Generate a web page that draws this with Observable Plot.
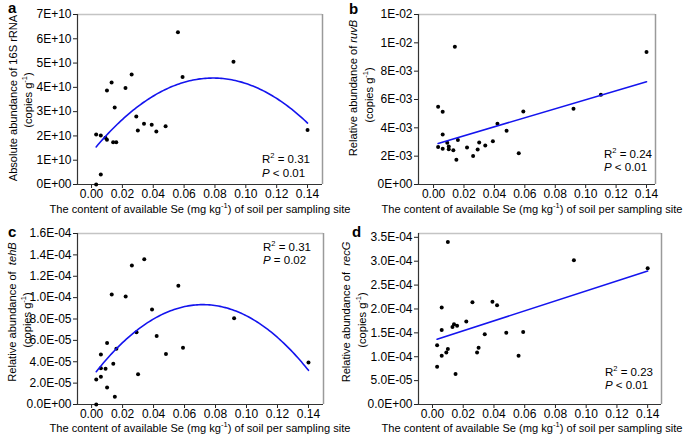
<!DOCTYPE html>
<html><head><meta charset="utf-8">
<script src="https://cdn.jsdelivr.net/npm/d3@7"></script>
<script src="https://cdn.jsdelivr.net/npm/@observablehq/plot@0.6"></script>
<style>
html,body{margin:0;padding:0;background:#fff;}
#wrap{position:relative;width:685px;height:435px;overflow:hidden;font-family:"Liberation Sans",Arial,sans-serif;}
.panel{position:absolute;}
.panel svg{background:none !important;overflow:visible !important;max-width:none !important;}
</style></head><body><div id="wrap"></div>
<script>
// ---------- data ----------
const xTicks = [0, 0.02, 0.04, 0.06, 0.08, 0.10, 0.12, 0.14];

// a: absolute abundance of 16S rRNA
const seA = [0.003,0.003,0.006,0.006,0.009,0.010,0.010,0.013,0.014,0.015,0.016,0.022,0.026,0.029,0.030,0.034,0.039,0.042,0.048,0.056,0.059,0.092,0.140];
const rrna16S = [2.06e10,0.0,2.02e10,0.41e10,1.92e10,1.84e10,3.87e10,4.20e10,1.74e10,3.17e10,1.74e10,3.97e10,4.53e10,2.80e10,2.22e10,2.50e10,2.46e10,2.18e10,2.40e10,6.27e10,4.43e10,5.05e10,2.24e10];
const yTicksA = [0,1e10,2e10,3e10,4e10,5e10,6e10,7e10];
const yLabelsA = ["0E+00","1E+10","2E+10","3E+10","4E+10","5E+10","6E+10","7E+10"];

// b: relative abundance of ruvB
const seB = [0.003,0.003,0.006,0.006,0.006,0.009,0.010,0.010,0.013,0.014,0.015,0.016,0.022,0.026,0.029,0.030,0.034,0.039,0.042,0.048,0.056,0.059,0.092,0.110,0.140];
const ruvB = [2.64e-3,5.48e-3,5.13e-3,2.52e-3,3.53e-3,2.94e-3,2.68e-3,2.49e-3,2.42e-3,9.72e-3,1.74e-3,3.15e-3,2.61e-3,2.02e-3,2.47e-3,2.96e-3,2.75e-3,3.06e-3,4.28e-3,3.79e-3,2.21e-3,5.15e-3,5.34e-3,6.33e-3,9.36e-3];
const yTicksB = [0,0.002,0.004,0.006,0.008,0.010,0.012];
const yLabelsB = ["0E+00","2E-03","4E-03","6E-03","8E-03","1E-02","1E-02"];

// c: relative abundance of tehB
const seC = [0.003,0.003,0.006,0.006,0.006,0.009,0.010,0.010,0.013,0.014,0.015,0.016,0.022,0.026,0.029,0.030,0.034,0.039,0.042,0.048,0.056,0.059,0.092,0.140];
const tehB = [0.0,2.34e-5,2.59e-5,3.40e-5,4.69e-5,3.34e-5,1.59e-5,5.75e-5,10.3e-5,3.81e-5,0.72e-5,5.22e-5,10.1e-5,13.0e-5,6.75e-5,2.84e-5,13.6e-5,8.9e-5,6.4e-5,4.72e-5,11.1e-5,5.31e-5,8.06e-5,3.94e-5];
const yTicksC = [0,2e-5,4e-5,6e-5,8e-5,10e-5,12e-5,14e-5,16e-5];
const yLabelsC = ["0.0E+00","2.0E-05","4.0E-05","6.0E-05","8.0E-05","1.0E-04","1.2E-04","1.4E-04","1.6E-04"];

// d: relative abundance of recG
const seD = [0.003,0.003,0.006,0.006,0.006,0.009,0.010,0.010,0.013,0.014,0.015,0.016,0.022,0.026,0.029,0.030,0.034,0.039,0.042,0.048,0.056,0.059,0.092,0.140];
const recG = [12.4e-5,7.92e-5,20.3e-5,15.6e-5,10.2e-5,10.9e-5,11.6e-5,34.0e-5,16.2e-5,16.8e-5,6.38e-5,16.5e-5,17.4e-5,21.4e-5,10.9e-5,11.9e-5,14.7e-5,21.5e-5,20.8e-5,15.0e-5,10.2e-5,15.2e-5,30.2e-5,28.5e-5];
const yTicksD = [0,5e-5,10e-5,15e-5,20e-5,25e-5,30e-5,35e-5];
const yLabelsD = ["0.0E+00","5.0E-05","1.0E-04","1.5E-04","2.0E-04","2.5E-04","3.0E-04","3.5E-04"];

const stats = {a:["0.31","<","0.01"], b:["0.24","<","0.01"], c:["0.31","=","0.02"], d:["0.23","<","0.01"]};

// ---------- helpers ----------
function quadFit(xs, ys) {
  const S = [0,0,0,0,0], T = [0,0,0];
  xs.forEach((x,i) => { for (let k=0;k<5;k++) S[k]+=x**k; for (let k=0;k<3;k++) T[k]+=ys[i]*x**k; });
  const A = [[S[0],S[1],S[2],T[0]],[S[1],S[2],S[3],T[1]],[S[2],S[3],S[4],T[2]]];
  for (let c=0;c<3;c++){ for (let r=c+1;r<3;r++){ const f=A[r][c]/A[c][c]; for(let k=c;k<4;k++) A[r][k]-=f*A[c][k]; } }
  const sol=[0,0,0];
  for (let r=2;r>=0;r--){ let s=A[r][3]; for(let k=r+1;k<3;k++) s-=A[r][k]*sol[k]; sol[r]=s/A[r][r]; }
  const [a0,a1,a2]=sol;
  const lo=d3.min(xs), hi=d3.max(xs);
  return d3.range(121).map(i => { const x=lo+(hi-lo)*i/120; return {x, y:a0+a1*x+a2*x*x}; });
}

const BLUE = "#1414ee";
const FONT = "Liberation Sans, Arial, sans-serif";
const TFS = 11.1; // title font size

function makePanel(cfg) {
  const data = cfg.x.map((x,i)=>({x, y: cfg.y[i]}));
  const lab = new Map(cfg.yTicks.map((t,i)=>[t, cfg.yLabels[i]]));
  const marks = [
    Plot.ruleY([cfg.yDomain[1]], {stroke:"#c4c4c4", strokeWidth:1.5}),
    Plot.ruleX([cfg.xDomain[1]], {stroke:"#9a9a9a", strokeWidth:1.5}),
    Plot.axisX({ticks: xTicks, tickFormat: d=>d.toFixed(2), tickSize:4, tickPadding:1, fontSize:12, stroke:"#222", label:null}),
    Plot.axisY({ticks: cfg.yTicks, tickFormat: d=>lab.get(d), tickSize:4, tickPadding:2, fontSize:12, stroke:"#222", label:null}),
    Plot.ruleX([cfg.xDomain[0]], {stroke:"#333", strokeWidth:1.2}),
    Plot.ruleY([cfg.yDomain[0]], {stroke:"#333", strokeWidth:1.2}),
    Plot.dot(data, {x:"x", y:"y", r:2, fill:"black", stroke:null})
  ];
  if (cfg.fit === "linear") marks.push(Plot.linearRegressionY(data, {x:"x", y:"y", stroke:BLUE, strokeWidth:1.6, ci:0}));
  else marks.push(Plot.line(quadFit(cfg.x, cfg.y), {x:"x", y:"y", stroke:BLUE, strokeWidth:1.6}));
  const svg = Plot.plot({
    width: cfg.width, height: cfg.height,
    marginLeft: cfg.m[0], marginRight: cfg.m[1], marginTop: cfg.m[2], marginBottom: cfg.m[3],
    x: {domain: cfg.xDomain}, y: {domain: cfg.yDomain},
    style: {fontFamily: FONT, fontSize: "12px", color: "black", background: "none"},
    marks
  });
  const s = d3.select(svg);
  const g = s.append("g").attr("font-family", FONT).attr("fill", "black").attr("text-anchor", "start");
  // panel letter
  g.append("text").attr("x", cfg.letter[1]).attr("y", cfg.letter[2]).attr("font-size", 15).attr("font-weight", "bold").text(cfg.letter[0]);
  // y title line 1
  const t1 = g.append("text").attr("font-size", TFS).attr("text-anchor", "middle").style("white-space","pre")
    .attr("transform", `translate(${cfg.yt1[0]},${cfg.yt1[1]}) rotate(-90)`);
  t1.append("tspan").text(cfg.ytitle[0]);
  if (cfg.ytitle[1]) t1.append("tspan").attr("font-style","italic").text(cfg.ytitle[1]);
  // y title line 2
  const t2 = g.append("text").attr("font-size", TFS).attr("text-anchor", "middle")
    .attr("transform", `translate(${cfg.yt2[0]},${cfg.yt2[1]}) rotate(-90)`);
  t2.append("tspan").text("(copies g");
  t2.append("tspan").attr("font-size", 7.5).attr("dy", -5).text("-1");
  t2.append("tspan").attr("dy", 5).text(")");
  // x title
  const xt = g.append("text").attr("font-size", TFS).attr("text-anchor", "middle").attr("x", cfg.xt[0]).attr("y", cfg.xt[1]);
  xt.append("tspan").text("The content of available Se (mg kg");
  xt.append("tspan").attr("font-size", 7.5).attr("dy", -5).text("-1");
  xt.append("tspan").attr("dy", 5).text(") of soil per sampling site");
  // statistics
  const st = stats[cfg.letter[0]];
  const r = g.append("text").attr("font-size", 11.5).attr("x", cfg.st[0]).attr("y", cfg.st[1]);
  r.append("tspan").text("R");
  r.append("tspan").attr("font-size", 7.5).attr("dy", -5).text("2");
  r.append("tspan").attr("dy", 5).text(" = " + st[0]);
  const p = g.append("text").attr("font-size", 11.5).attr("x", cfg.st[0]).attr("y", cfg.st[2]);
  p.append("tspan").attr("font-style","italic").text("P");
  p.append("tspan").text(" " + st[1] + " " + st[2]);

  const div = document.createElement("div");
  div.className = "panel";
  div.style.left = cfg.left + "px"; div.style.top = cfg.top + "px";
  div.appendChild(svg);
  document.getElementById("wrap").appendChild(div);
}

makePanel({letter:["a",8,13], left:0, top:0, width:342, height:217, m:[77,20,14,33],
  x: seA, y: rrna16S, fit:"quad", xDomain:[-0.0091,0.1497], yDomain:[0,7e10],
  yTicks: yTicksA, yLabels: yLabelsA, ytitle:["Absolute abundance of 16S rRNA"],
  yt1:[17,98], yt2:[32,100], xt:[200,213], st:[262,163,177]});

makePanel({letter:["b",7,14], left:342, top:0, width:343, height:217, m:[76,30,14,33],
  x: seB, y: ruvB, fit:"linear", xDomain:[-0.0099,0.1459], yDomain:[0,0.012],
  yTicks: yTicksB, yLabels: yLabelsB, ytitle:["Relative abundance of ", "ruvB"],
  yt1:[15,88], yt2:[31,95], xt:[190,213], st:[262,158,171]});

makePanel({letter:["c",8,20], left:0, top:217, width:342, height:218, m:[77,19,16,31],
  x: seC, y: tehB, fit:"quad", xDomain:[-0.0091,0.1497], yDomain:[0,1.6e-4],
  yTicks: yTicksC, yLabels: yLabelsC, ytitle:["Relative abundance of  ", "tehB"],
  yt1:[16,95], yt2:[31,103], xt:[200,214.5], st:[263,34,47]});

makePanel({letter:["d",10,20], left:342, top:217, width:343, height:218, m:[76,24,16,31],
  x: seD, y: recG, fit:"linear", xDomain:[-0.0091,0.149], yDomain:[0,3.58e-4],
  yTicks: yTicksD, yLabels: yLabelsD, ytitle:["Relative abundance of  ", "recG"],
  yt1:[8,95], yt2:[24,103], xt:[190,214.5], st:[263,159,172]});
</script></body></html>
